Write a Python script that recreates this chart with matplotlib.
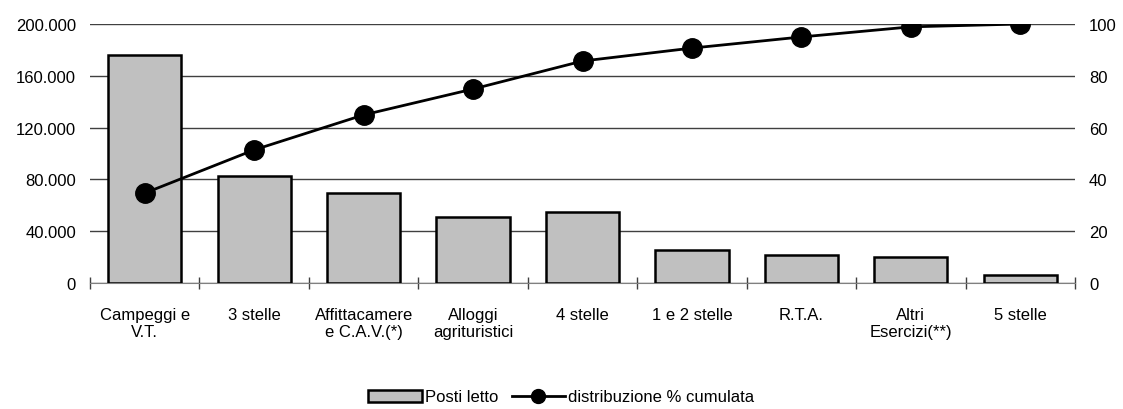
import matplotlib.pyplot as plt
from matplotlib.ticker import FuncFormatter
from matplotlib.lines import Line2D
from matplotlib.patches import Patch

categories = ["Campeggi e\nV.T.", "3 stelle", "Affittacamere\ne C.A.V.(*)", "Alloggi\nagrituristici",
              "4 stelle", "1 e 2 stelle", "R.T.A.", "Altri\nEsercizi(**)", "5 stelle"]
posti_letto = [176000, 82600, 69500, 51000, 54800, 25500, 21400, 20300, 6200]
cumulata = [34.7, 51.4, 64.9, 74.9, 85.7, 90.7, 95.0, 98.9, 100.0]

plt.rcParams['font.family'] = ['Liberation Sans Narrow', 'Liberation Sans', 'DejaVu Sans']
plt.rcParams['font.size'] = 12

fig = plt.figure(figsize=(11.23, 4.10), dpi=100)
ax = fig.add_axes([90 / 1123, 1 - 284 / 410, 985 / 1123, 259 / 410])
ax2 = ax.twinx()

x = list(range(len(categories)))
ax.bar(x, posti_letto, width=0.67, color="#C0C0C0", edgecolor="black", linewidth=1.8, zorder=3)
ax.set_xlim(-0.5, len(categories) - 0.5)
ax.set_ylim(0, 200000)
ax.set_yticks(range(0, 200001, 40000))
ax.yaxis.set_major_formatter(FuncFormatter(lambda v, p: f"{int(v):,}".replace(",", ".")))
ax.grid(axis="y", color="#404040", linewidth=1.0, zorder=0)
ax.set_axisbelow(True)

ax2.plot(x, cumulata, color="black", linewidth=2, marker="o", markersize=14, zorder=4)
ax2.set_ylim(0, 100)
ax2.set_yticks(range(0, 101, 20))

for a in (ax, ax2):
    for s in ["top", "left", "right"]:
        a.spines[s].set_visible(False)
    a.tick_params(axis="y", length=0, pad=10)
ax.spines["bottom"].set_color("#808080")
ax2.spines["bottom"].set_visible(False)

# category labels centered, tick marks between categories
ax.set_xticks(x)
ax.set_xticklabels(categories, va="top")
ax.tick_params(axis="x", length=0, pad=17)
ax.set_xticks([i - 0.5 for i in range(len(categories) + 1)], minor=True)
ax.tick_params(axis="x", which="minor", length=8, direction="inout", color="#404040", width=1)

ax.set_zorder(ax2.get_zorder() - 1)
ax.patch.set_visible(False)
ax2.patch.set_visible(False)

handles = [Patch(facecolor="#C0C0C0", edgecolor="black", linewidth=1.8),
           Line2D([0], [0], color="black", linewidth=2, marker="o", markersize=10)]
fig.legend(handles, ["Posti letto", "distribuzione % cumulata"], loc="center",
           bbox_to_anchor=(0.5, 1 - 398 / 410), ncol=2, frameon=False,
           handlelength=3.2, handletextpad=0.2, columnspacing=0.8, fontsize=12)

fig.savefig("out.png", dpi=100)
